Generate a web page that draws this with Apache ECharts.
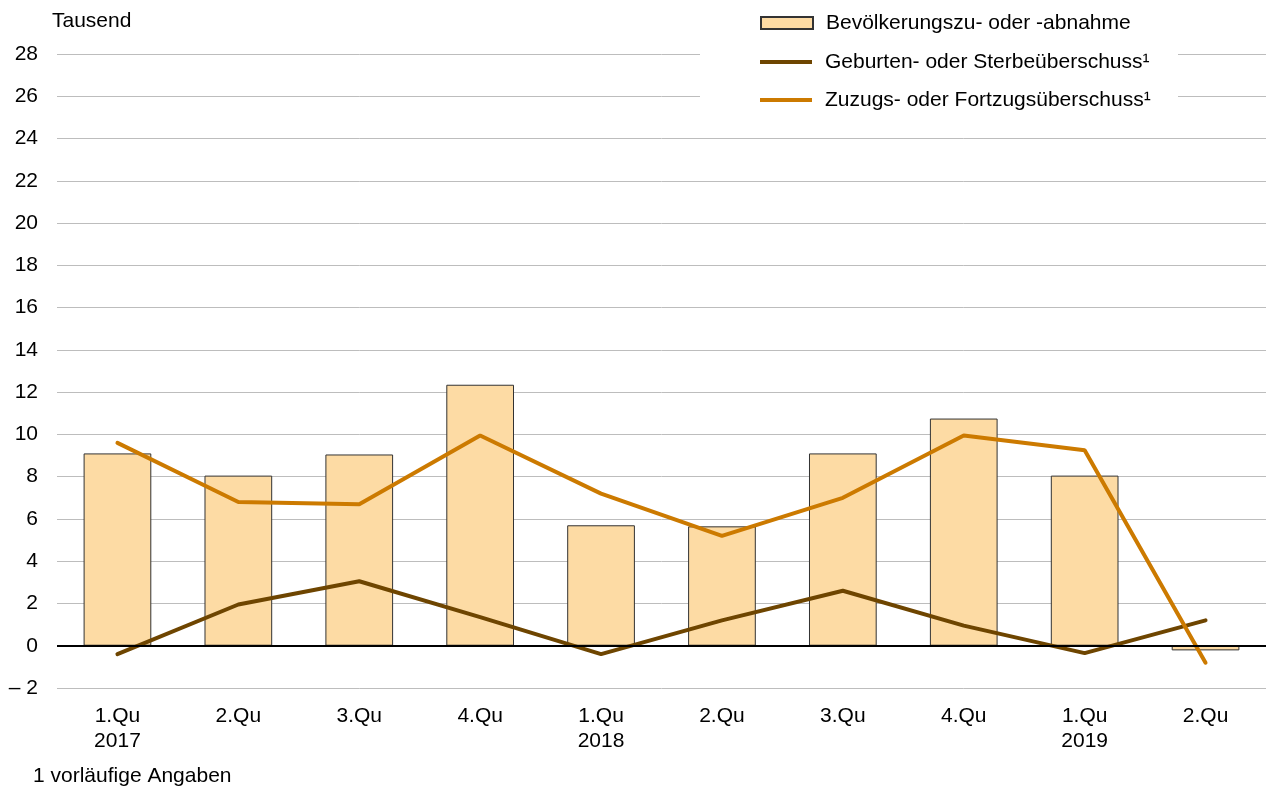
<!DOCTYPE html>
<html>
<head>
<meta charset="utf-8">
<script src="https://cdn.jsdelivr.net/npm/echarts@6/dist/echarts.min.js"></script>
<style>
html, body { margin: 0; padding: 0; background: #fff; }
#chart { width: 1266px; height: 787px; }
</style>
</head>
<body>
<div id="chart"></div>
<script>
// Quartale 2017 - 2019
var quartale = ['1.Qu\n2017', '2.Qu', '3.Qu', '4.Qu', '1.Qu\n2018', '2.Qu', '3.Qu', '4.Qu', '1.Qu\n2019', '2.Qu'];
var bevoelkerung = [9.1, 8.05, 9.05, 12.35, 5.7, 5.65, 9.1, 10.75, 8.05, -0.22];
var geburten = [-0.4, 1.95, 3.05, 1.35, -0.4, 1.2, 2.6, 0.95, -0.35, 1.2];
var zuzug = [9.6, 6.8, 6.7, 9.95, 7.2, 5.2, 7.0, 9.95, 9.25, -0.8];
var serienNamen = ['Bevölkerungszu- oder -abnahme', 'Geburten- oder Sterbeüberschuss¹', 'Zuzugs- oder Fortzugsüberschuss¹'];

var schrift = 'Liberation Sans, Arial, sans-serif';
var gross = 21;
var myChart = echarts.init(document.getElementById('chart'));

function legende(name, top, hoehe) {
    return {
        data: [{ name: name, icon: 'rect' }],
        left: 760,
        top: top,
        padding: 0,
        itemWidth: 52,
        itemHeight: hoehe,
        textStyle: { fontSize: gross, lineHeight: 24, color: '#000', fontFamily: schrift, padding: [0, 0, 0, 8] }
    };
}

var option = {
    animation: false,
    textStyle: { fontFamily: schrift },
    grid: { left: 57, right: 0, top: 54, bottom: 99 },
    title: [
        { text: 'Tausend', left: 52, top: 11, padding: 0, textStyle: { fontSize: gross, fontWeight: 'normal', color: '#000', fontFamily: schrift } },
        { text: '1 vorläufige Angaben', left: 33, top: 766, padding: 0, textStyle: { fontSize: gross, fontWeight: 'normal', color: '#000', fontFamily: schrift } }
    ],
    // weisser Hintergrund hinter der Legende
    graphic: [{
        type: 'rect',
        z: 1,
        shape: { x: 700, y: 0, width: 478, height: 112 },
        style: { fill: '#fff' },
        silent: true
    }],
    legend: [
        legende(serienNamen[0], 11, 12),
        legende(serienNamen[1], 50, 4),
        legende(serienNamen[2], 88, 4)
    ],
    xAxis: {
        type: 'category',
        data: quartale,
        axisLine: { show: false },
        axisTick: { show: false },
        axisLabel: { fontSize: gross, color: '#000', lineHeight: 25, margin: 16, fontFamily: schrift }
    },
    yAxis: {
        type: 'value',
        min: -2,
        max: 28,
        interval: 2,
        axisLine: { show: false },
        axisTick: { show: false },
        axisLabel: {
            fontSize: gross, color: '#000', margin: 19, fontFamily: schrift,
            formatter: function (v) { return v < 0 ? '– ' + Math.abs(v) : String(v); }
        },
        splitLine: { lineStyle: { color: '#bdbdbd', width: 1 } }
    },
    series: [
        {
            name: serienNamen[0],
            type: 'bar',
            data: bevoelkerung,
            barCategoryGap: '44%',
            itemStyle: { color: '#fddba4', borderColor: '#333', borderWidth: 1 },
            markLine: {
                silent: true,
                symbol: 'none',
                label: { show: false },
                lineStyle: { color: '#000', width: 2, type: 'solid' },
                data: [{ yAxis: 0 }]
            }
        },
        {
            name: serienNamen[1],
            type: 'line',
            data: geburten,
            symbol: 'none',
            itemStyle: { color: '#6e4500' },
            lineStyle: { color: '#6e4500', width: 4, cap: 'round' }
        },
        {
            name: serienNamen[2],
            type: 'line',
            data: zuzug,
            symbol: 'none',
            itemStyle: { color: '#cc7a00' },
            lineStyle: { color: '#cc7a00', width: 4, cap: 'round' }
        }
    ]
};
myChart.setOption(option);
window.addEventListener('resize', function () { myChart.resize(); });
</script>
</body>
</html>
